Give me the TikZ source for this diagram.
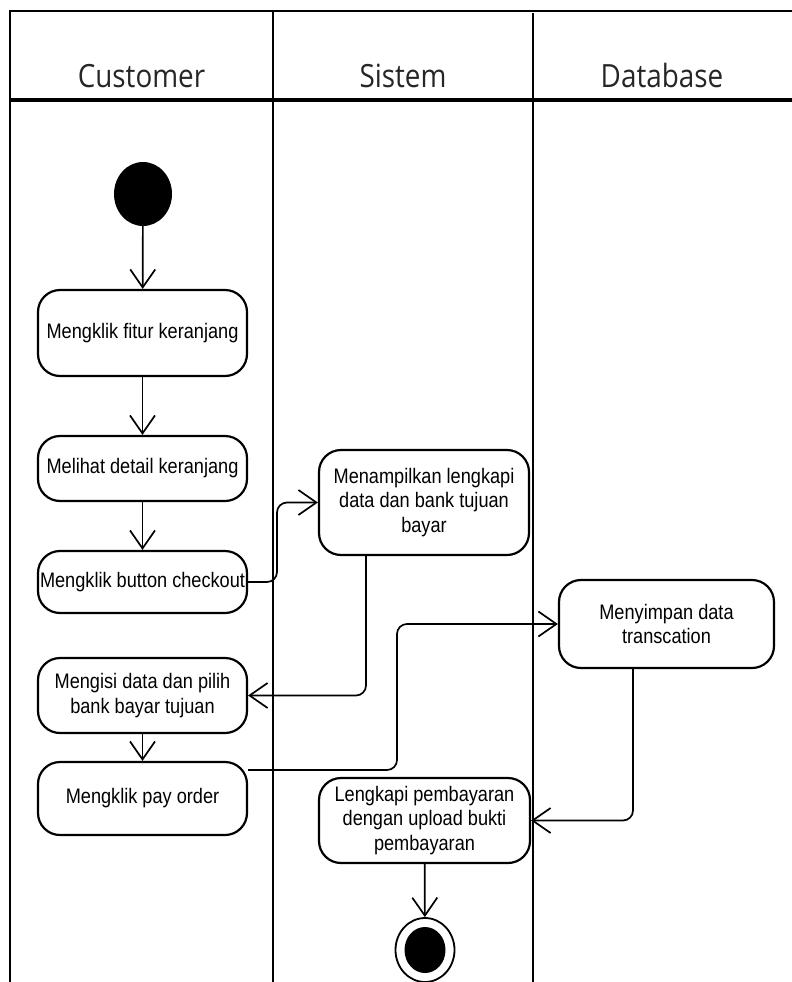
\documentclass[tikz,border=0pt]{standalone}
\usepackage{fontspec}
\usetikzlibrary{arrows.meta,shapes.geometric}
\newfontfamily\boxfont{Liberation Sans}[FakeStretch=0.865]
\newfontfamily\headfont{Open Sans}[FakeStretch=0.87]
\begin{document}
\begin{tikzpicture}[x=1pt,y=-1pt,
  lane/.style={line width=1.5pt},
  headline/.style={line width=3.8pt},
  lanetitle/.style={font=\headfont\fontsize{32}{36}\selectfont, anchor=base, inner sep=0, text=black!85},
  action/.style={draw, line width=2.2pt, rounded corners=22pt, align=center,
    font=\boxfont\fontsize{21}{24.5}\selectfont, inner sep=0},
  conn/.style={line width=1.7pt, rounded corners=10pt,
    -{Straight Barb[length=18pt,width=25pt,line width=1.7pt]}},
  startnode/.style={ellipse, fill=black, minimum width=58pt, minimum height=64pt, inner sep=0},
]
\useasboundingbox (0,0) rectangle (792,982);

% swimlane frame
\draw[lane] (10,982) -- (10,11) -- (792,11);
\draw[lane] (273,11) -- (273,982);
\draw[lane] (533,13) -- (533,982);
\draw[headline] (10,100) -- (792,100);

\node[lanetitle] (tcust) at (141.5,88) {Customer};
\node[lanetitle] (tsys)  at (403,88)   {Sistem};
\node[lanetitle] (tdb)   at (662,88)   {Database};

% initial and final states
\node[startnode] (start) at (143,194) {};
\node[ellipse, draw, line width=1.8pt, minimum width=59pt, minimum height=64pt, inner sep=0] (stop) at (425,950) {};
\node[ellipse, fill=black, minimum width=41pt, minimum height=46pt, inner sep=0] (stopdot) at (stop.center) {};

% actions
\node[action, minimum width=209pt, minimum height=86pt] (b1) at (142.5,333) {Mengklik fitur keranjang};
\node[action, minimum width=209pt, minimum height=65pt] (b2) at (142.5,468.5) {Melihat detail keranjang};
\node[action, minimum width=209pt, minimum height=62pt] (b3) at (142.5,582) {Mengklik button checkout};
\node[action, minimum width=209pt, minimum height=75pt] (b4) at (142.5,695.5) {Mengisi data dan pilih\\bank bayar tujuan};
\node[action, minimum width=209pt, minimum height=73pt] (b5) at (142.5,798.5) {Mengklik pay order};
\node[action, minimum width=210pt, minimum height=105pt] (s1) at (424,502.5) {Menampilkan lengkapi\\data dan bank tujuan\\bayar};
\node[action, minimum width=215pt, minimum height=88pt] (d1) at (666.5,624) {Menyimpan data\\transcation};
\node[action, minimum width=211pt, minimum height=85pt] (s2) at (424.5,820.5) {Lengkapi pembayaran\\dengan upload bukti\\pembayaran};

% routing columns
\coordinate (k1) at (277,0);
\coordinate (k2) at (366,0);
\coordinate (k3) at (0,770);
\coordinate (k4) at (397,0);
\coordinate (k5) at (633,0);

% flows
\draw[conn] (start) -- (b1);
\draw[conn] (b1) -- (b2);
\draw[conn] (b2) -- (b3);
\draw[conn] (b3.east) -| (k1 |- s1.west) -- (s1.west);
\draw[conn] (k2 |- s1.south) |- (b4.east);
\draw[conn] (b4) -- (b5);
\draw[conn] (b5.east |- k3) -| (k4 |- d1.west) -- (d1.west);
\draw[conn] (k5 |- d1.south) |- (s2.east);
\draw[conn] (s2) -- (stop);
\end{tikzpicture}
\end{document}
